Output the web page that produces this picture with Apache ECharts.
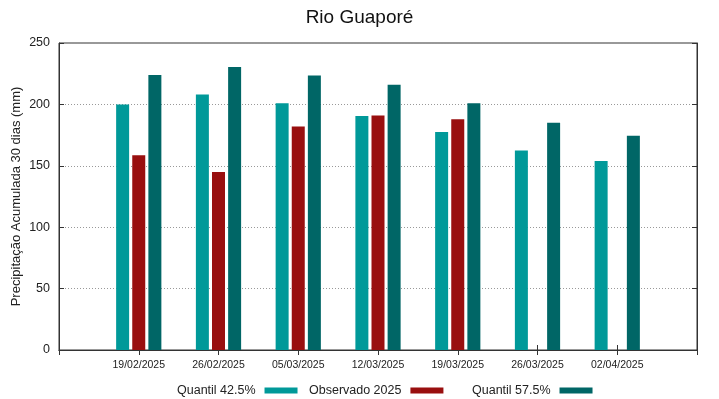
<!DOCTYPE html>
<html>
<head>
<meta charset="utf-8">
<script src="https://cdn.jsdelivr.net/npm/echarts@6/dist/echarts.min.js"></script>
<style>html,body{margin:0;padding:0;background:#fff}#c{width:719px;height:399px}</style>
</head>
<body>
<div id="c"></div>
<script>
const categories = ['19/02/2025','26/02/2025','05/03/2025','12/03/2025','19/03/2025','26/03/2025','02/04/2025'];
const q425 = [200, 208, 201, 190.5, 177.5, 162.5, 154];
const obs2025 = [158.5, 145, 182, 191, 188, null, null];
const q575 = [224, 230.5, 223.5, 216, 201, 185, 174.5];
const yTicks = [0, 50, 100, 150, 200, 250];
const seriesNames = ['Quantil 42.5%', 'Observado 2025', 'Quantil 57.5%'];
const colors = ['#009999', '#990f0f', '#006666'];

const FONT = 'Liberation Sans';
const axisData = [''].concat(categories, ['']);
const pad = arr => [null].concat(arr, [null]);

const chart = echarts.init(document.getElementById('c'), null, {renderer: 'canvas'});
const mkLegend = (name, left) => ({
  left: left, top: 379, align: 'right', itemWidth: 33, itemHeight: 6,
  icon: 'rect', data: [name], itemGap: 0,
  textStyle: {fontFamily: FONT, fontSize: 12.5, color: '#222', padding: [0, 4, 0, 0]}
});
chart.setOption({
  animation: false,
  backgroundColor: '#fff',
  title: {
    text: 'Rio Guaporé', left: 'center', top: 3,
    textStyle: {fontFamily: FONT, fontSize: 19, fontWeight: 'normal', color: '#111'}
  },
  legend: [
    mkLegend(seriesNames[0], 172),
    mkLegend(seriesNames[1], 304),
    mkLegend(seriesNames[2], 467)
  ],
  grid: {left: 59, right: 22, top: 43, bottom: 49, show: true, borderColor: '#333', borderWidth: 1,
         containLabel: false, outerBoundsMode: 'none'},
  xAxis: [{
    type: 'category', data: axisData, boundaryGap: false, position: 'bottom',
    axisLine: {lineStyle: {color: '#333'}},
    axisTick: {show: true, inside: true, length: 5, lineStyle: {color: '#333'}},
    axisLabel: {fontFamily: FONT, fontSize: 10.5, color: '#222', margin: 10},
    splitLine: {show: false}
  }, {
    type: 'category', data: axisData, boundaryGap: false, position: 'top',
    axisLine: {lineStyle: {color: '#333'}},
    axisTick: {show: true, inside: true, length: 5, lineStyle: {color: '#333'}},
    axisLabel: {show: false}, splitLine: {show: false}
  }],
  yAxis: [{
    type: 'value', min: yTicks[0], max: yTicks[yTicks.length - 1], interval: 50,
    name: 'Precipitação Acumulada 30 dias (mm)', nameLocation: 'middle', nameGap: 36,
    nameMoveOverlap: false,
    nameTextStyle: {fontFamily: FONT, fontSize: 13, color: '#222'},
    axisLine: {show: true, lineStyle: {color: '#333'}},
    axisTick: {show: true, inside: true, length: 5, lineStyle: {color: '#333'}},
    axisLabel: {fontFamily: FONT, fontSize: 12.5, color: '#222', margin: 9},
    splitLine: {show: true, lineStyle: {color: '#999', type: [1, 2], width: 1}}
  }, {
    type: 'value', min: yTicks[0], max: yTicks[yTicks.length - 1], interval: 50, position: 'right',
    axisLine: {show: true, lineStyle: {color: '#333'}},
    axisTick: {show: true, inside: true, length: 5, lineStyle: {color: '#333'}},
    axisLabel: {show: false}, splitLine: {show: false}
  }],
  series: [
    {name: seriesNames[0], type: 'bar', data: pad(q425), barWidth: 13, barGap: '24%', itemStyle: {color: colors[0]}},
    {name: seriesNames[1], type: 'bar', data: pad(obs2025), barWidth: 13, barGap: '24%', itemStyle: {color: colors[1]}},
    {name: seriesNames[2], type: 'bar', data: pad(q575), barWidth: 13, barGap: '24%', itemStyle: {color: colors[2]}}
  ]
});
</script>
</body>
</html>
